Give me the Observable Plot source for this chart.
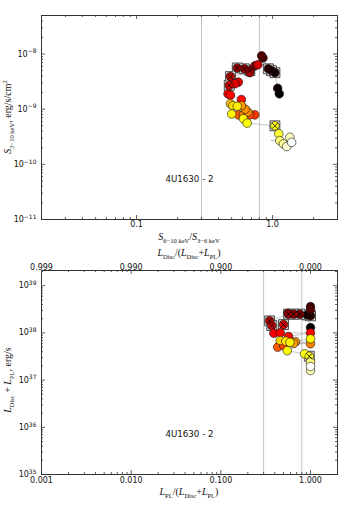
<!DOCTYPE html>
<html><head><meta charset="utf-8">
<script src="https://cdn.jsdelivr.net/npm/d3@7"></script>
<script src="https://cdn.jsdelivr.net/npm/@observablehq/plot@0.6"></script>
<style>
body{margin:0;background:#fff;}
#chart{width:341px;height:511px;overflow:hidden;}
#chart svg{display:block;}
</style></head><body><div id="chart"></div>
<script>
// ---------- Top panel: hardness ratio vs 3-10 keV flux ----------
const topHr   = [1.12,1.09,1.04,0.98,0.93,0.85,0.83,0.74,0.78,0.68,0.62,0.55,0.68,0.49,0.56,0.53,0.48,0.47,0.49,0.59,0.74,0.68,0.56,0.61,0.66,0.63,0.59,0.49,0.51,0.55,0.50,0.61,0.65,1.04,1.11,1.13,1.20,1.34,1.27,1.38];
const topFlux = [1.9e-9,2.4e-9,4.6e-9,5.0e-9,5.4e-9,8.5e-9,9.3e-9,6.1e-9,6.4e-9,5.0e-9,5.4e-9,5.6e-9,4.6e-9,3.9e-9,3.1e-9,2.9e-9,2.7e-9,1.9e-9,1.8e-9,1.5e-9,7.9e-10,7.9e-10,7.9e-10,7.9e-10,8.8e-10,1.0e-9,1.16e-9,1.25e-9,1.16e-9,1.13e-9,8.2e-10,6.7e-10,5.6e-10,5.0e-10,3.6e-10,2.7e-10,2.35e-10,3.1e-10,2.1e-10,2.5e-10];
const topTime = [0.00,0.02,0.04,0.05,0.06,0.10,0.12,0.18,0.30,0.20,0.21,0.22,0.24,0.27,0.32,0.33,0.31,0.36,0.37,0.38,0.45,0.47,0.50,0.55,0.57,0.58,0.60,0.66,0.70,0.72,0.73,0.74,0.75,0.77,0.80,0.86,0.90,0.93,0.96,1.00];
const topBox  = [0,0,1,1,1,0,0,0,0,1,1,1,0,1,0,0,1,0,0,0,0,0,0,0,0,0,0,0,0,0,0,0,0,1,0,0,0,0,0,0];
const topErrHr = [1.13], topErrLo = [0.97], topErrHi = [1.28], topErrFlux = [2.7e-10];
const topXTicks = [0.1, 1], topXLabels = ["0.1", "1.0"];
const topYTicks = [1e-11, 1e-10, 1e-9, 1e-8], topYExp = ["−11", "−10", "−9", "−8"];

// ---------- Bottom panel: PL fraction vs total luminosity ----------
const botPl   = [1.0,0.92,1.0,1.0,1.0,0.76,0.56,0.65,0.57,0.35,0.37,0.50,0.39,0.46,1.0,0.57,0.43,0.50,0.68,1.0,0.65,0.46,0.53,0.59,1.0,0.55,0.86,0.97,1.0,1.0,1.0];
const botLum  = [1.3e38,2.4e38,2.3e38,3.6e38,3.1e38,2.5e38,2.6e38,2.5e38,2.5e38,1.8e38,1.43e38,1.5e38,9.8e37,1.0e38,1.0e38,8.4e37,5.0e37,5.4e37,6.5e37,5.9e37,6.0e37,6.9e37,6.7e37,6.3e37,7.5e37,4.2e37,3.6e37,3.2e37,2.4e37,1.6e37,1.94e37];
const botTime = [0.00,0.04,0.06,0.10,0.12,0.18,0.19,0.21,0.22,0.27,0.29,0.31,0.35,0.36,0.37,0.38,0.50,0.47,0.58,0.56,0.60,0.68,0.71,0.73,0.74,0.75,0.77,0.78,0.86,0.92,1.00];
const botBox  = [0,1,1,0,0,1,0,1,1,1,1,1,0,0,0,0,0,0,0,0,0,0,0,0,0,0,0,1,0,0,0];
const botXTicks = [0.001, 0.01, 0.1, 1], botXLabels = ["0.001", "0.010", "0.100", "1.000"];
const botTopLabels = ["0.999", "0.990", "0.900", "0.000"];
const botYTicks = [1e35, 1e36, 1e37, 1e38, 1e39], botYExp = ["35", "36", "37", "38", "39"];

const refLines = [0.3, 0.8];
const sourceName = "4U1630 - 2";

// hot colormap through colour scale stops
const colorScale = {type: "linear", domain: [0, 0.365, 0.746, 1], range: ["#000000", "#ff0000", "#ffff00", "#ffffff"]};

function minorTicks(lo, hi) {
  const out = [];
  for (let e = Math.floor(Math.log10(lo)); e <= Math.ceil(Math.log10(hi)); e++)
    for (let m = 2; m <= 9; m++) { const v = m * Math.pow(10, e); if (v >= lo * 0.999 && v <= hi * 1.001) out.push(v); }
  return out;
}

const W = 341, ML = 41, MR = 4, Wf = W - ML - MR;

function tickMarks(xMaj, xMin, yMaj, yMin, Hf) {
  const c = {stroke: "#333", strokeWidth: 0.8};
  return [
    Plot.tickX(xMaj, {x: d => d, insetTop: Hf - 4, ...c}),
    Plot.tickX(xMaj, {x: d => d, insetBottom: Hf - 4, ...c}),
    Plot.tickX(xMin, {x: d => d, insetTop: Hf - 2, ...c}),
    Plot.tickX(xMin, {x: d => d, insetBottom: Hf - 2, ...c}),
    Plot.tickY(yMaj, {y: d => d, insetRight: Wf - 4, ...c}),
    Plot.tickY(yMaj, {y: d => d, insetLeft: Wf - 4, ...c}),
    Plot.tickY(yMin, {y: d => d, insetRight: Wf - 2, ...c}),
    Plot.tickY(yMin, {y: d => d, insetLeft: Wf - 2, ...c})
  ];
}

function pointMarks(data, xk, yk) {
  const boxed = data.filter(d => d.box);
  return [
    Plot.line(data, {x: xk, y: yk, stroke: "#b0b0b0", strokeWidth: 0.7}),
    Plot.dot(boxed, {x: xk, y: yk, symbol: "square", r: 5.6, fill: "#a4a4a4", stroke: "#333", strokeWidth: 0.8}),
    Plot.dot(boxed, {x: xk, y: yk, symbol: "square", r: 4.4, fill: "none", stroke: "#fff", strokeWidth: 0.6}),
    Plot.dot(data, {x: xk, y: yk, r: 4.3, fill: "t", stroke: "#111", strokeWidth: 0.6}),
    Plot.dot(boxed, {x: xk, y: yk, symbol: "times", r: 2.8, stroke: "#000", strokeWidth: 0.8})
  ];
}

function supLabels(svg) {
  d3.select(svg).selectAll('g[aria-label="y-axis tick label"] text').each(function () {
    const s = this.textContent; const [b, e] = s.split("^");
    const t = d3.select(this); t.text(null);
    t.append("tspan").text(b);
    t.append("tspan").attr("dy", "-0.55em").attr("font-size", "6px").text(e);
  });
}

function addLabel(svg, x, y, parts, rotate) {
  const t = d3.select(svg).append("text").attr("text-anchor", "middle")
    .attr("font-family", "Liberation Serif").attr("font-size", 10).attr("fill", "#111");
  if (rotate) t.attr("transform", `translate(${x},${y}) rotate(-90)`); else t.attr("x", x).attr("y", y);
  let shift = 0;
  for (const [txt, kind] of parts) {
    const ts = t.append("tspan").text(txt);
    const target = kind === "sub" ? 2.5 : kind === "sup" ? -4 : 0;
    ts.attr("dy", target - shift); shift = target;
    if (kind === "sub" || kind === "sup") ts.attr("font-size", 6.5);
    if (kind === "i") ts.attr("font-style", "italic");
  }
}

const style = {fontFamily: "DejaVu Sans", fontSize: "8px", color: "#111", background: "#fff", overflow: "visible"};

// ---------- top ----------
const topData = topHr.map((x, i) => ({x, y: topFlux[i], t: topTime[i], box: topBox[i]}));
const topErr = topErrHr.map((x, i) => ({x1: topErrLo[i], x2: topErrHi[i], y: topErrFlux[i]}));
const H1 = 246, MT1 = 15, MB1 = 27, Hf1 = H1 - MT1 - MB1;
const xLabTop = new Map(topXTicks.map((d, i) => [d, topXLabels[i]]));
const yExpTop = new Map(topYTicks.map((d, i) => [d, topYExp[i]]));
const topPlot = Plot.plot({
  width: W, height: H1, marginTop: MT1, marginBottom: MB1, marginLeft: ML, marginRight: MR,
  x: {type: "log", domain: [0.02, 3]},
  y: {type: "log", domain: [1e-11, 5e-8]},
  color: colorScale,
  style,
  marks: [
    Plot.ruleX(refLines, {x: d => d, stroke: "#c4c4c4", strokeWidth: 1}),
    ...tickMarks(topXTicks, minorTicks(0.02, 3), topYTicks, minorTicks(1e-11, 5e-8), Hf1),
    Plot.link(topErr, {x1: "x1", x2: "x2", y1: "y", y2: "y", stroke: "#999", strokeWidth: 0.8}),
    ...pointMarks(topData, "x", "y"),
    Plot.text([sourceName], {text: d => d, frameAnchor: "bottom", dy: -0.2 * Hf1 + 3, fontSize: 8.7, fill: "#111"}),
    Plot.frame({stroke: "#333", strokeWidth: 1}),
    Plot.axisX({ticks: topXTicks, tickFormat: d => xLabTop.get(d), tickSize: 0, tickPadding: 1.5, label: null}),
    Plot.axisY({ticks: topYTicks, tickFormat: d => "10^" + yExpTop.get(d), tickSize: 0, tickPadding: 5, label: null})
  ]
});
supLabels(topPlot);
addLabel(topPlot, ML + Wf / 2, 240, [["S", "i"], ["6−10 keV", "sub"], ["/", "r"], ["S", "i"], ["3−6 keV", "sub"]]);
addLabel(topPlot, 11, MT1 + Hf1 / 2, [["S", "i"], ["3−10 keV", "sub"], [", erg/s/cm", "r"], ["2", "sup"]], true);

// ---------- bottom ----------
const botData = botPl.map((x, i) => ({x, y: botLum[i], t: botTime[i], box: botBox[i]}));
const H2 = 265, MT2 = 24, MB2 = 37, Hf2 = H2 - MT2 - MB2;
const xLabBot = new Map(botXTicks.map((d, i) => [d, botXLabels[i]]));
const xLabBotTop = new Map(botXTicks.map((d, i) => [d, botTopLabels[i]]));
const yExpBot = new Map(botYTicks.map((d, i) => [d, botYExp[i]]));
const botPlot = Plot.plot({
  width: W, height: H2, marginTop: MT2, marginBottom: MB2, marginLeft: ML, marginRight: MR,
  x: {type: "log", domain: [0.001, 2]},
  y: {type: "log", domain: [1e35, 2.1e39]},
  color: colorScale,
  style,
  marks: [
    Plot.ruleX(refLines, {x: d => d, stroke: "#c4c4c4", strokeWidth: 1}),
    ...tickMarks(botXTicks, minorTicks(0.001, 2), botYTicks, minorTicks(1e35, 2.1e39), Hf2),
    ...pointMarks(botData, "x", "y"),
    Plot.text([sourceName], {text: d => d, frameAnchor: "bottom", dy: -0.2 * Hf2 + 3, fontSize: 8.7, fill: "#111"}),
    Plot.frame({stroke: "#333", strokeWidth: 1}),
    Plot.axisX({ticks: botXTicks, tickFormat: d => xLabBot.get(d), tickSize: 0, tickPadding: 2.5, label: null}),
    Plot.axisX({anchor: "top", ticks: botXTicks, tickFormat: d => xLabBotTop.get(d), tickSize: 0, tickPadding: 1, label: null}),
    Plot.axisY({ticks: botYTicks, tickFormat: d => "10^" + yExpBot.get(d), tickSize: 0, tickPadding: 5, label: null})
  ]
});
supLabels(botPlot);
addLabel(botPlot, ML + Wf / 2, 249, [["L", "i"], ["PL", "sub"], ["/(", "r"], ["L", "i"], ["Disc", "sub"], ["+", "r"], ["L", "i"], ["PL", "sub"], [")", "r"]]);
addLabel(botPlot, ML + Wf / 2, 10, [["L", "i"], ["Disc", "sub"], ["/(", "r"], ["L", "i"], ["Disc", "sub"], ["+", "r"], ["L", "i"], ["PL", "sub"], [")", "r"]]);
addLabel(botPlot, 11, MT2 + Hf2 / 2 + 8, [["L", "i"], ["Disc", "sub"], [" + ", "r"], ["L", "i"], ["PL", "sub"], [", erg/s", "r"]], true);

const chart = document.getElementById("chart");
chart.appendChild(topPlot);
chart.appendChild(botPlot);
</script>
</body></html>
